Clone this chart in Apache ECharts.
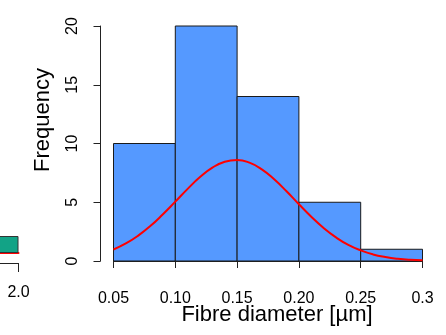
<!DOCTYPE html>
<html>
<head>
<meta charset="utf-8">
<script src="https://cdn.jsdelivr.net/npm/echarts@6/dist/echarts.min.js"></script>
<style>
html,body{margin:0;padding:0;background:#fff;}
#chart{width:446px;height:335px;}
</style>
</head>
<body>
<div id="chart"></div>
<script>
// ---- data ----
const binEdges = [0.05, 0.10, 0.15, 0.20, 0.25, 0.30];
const counts = [10, 20, 14, 5, 1];
const curveX = [0.05,0.06,0.07,0.08,0.09,0.10,0.11,0.12,0.13,0.14,0.15,0.16,0.17,0.18,0.19,0.20,0.21,0.22,0.23,0.24,0.25,0.26,0.27,0.28,0.29,0.30];
const curveY = [0.98,1.49,2.16,2.99,3.98,5.05,6.14,7.14,7.94,8.45,8.60,8.37,7.80,6.95,5.93,4.83,3.77,2.81,2.01,1.37,0.90,0.56,0.34,0.19,0.10,0.06];
const xTickLabels = ['0.05','0.10','0.15','0.20','0.25','0.3'];
const yTickLabels = ['0','5','10','15','20'];
const leftCategories = ['a','b','c'];
const leftValues = [2.0, null, null];
const leftTickLabels = ['0.0','0.5','1.0','1.5','2.0'];

const FONT = "'Liberation Sans', Arial, Helvetica, sans-serif";
const chart = echarts.init(document.getElementById('chart'), null, {renderer:'canvas'});

const histData = counts.map((c, i) => [binEdges[i], binEdges[i + 1], c]);
const curveData = curveX.map((x, i) => [x, curveY[i]]);

const option = {
  animation: false,
  backgroundColor: '#ffffff',
  textStyle: {fontFamily: FONT},
  grid: [
    {left: 113.5, top: 26, width: 309, height: 235, containLabel: false, outerBoundsMode: 'none'},
    {left: -200, top: 202, width: 218.5, height: 51, containLabel: false, outerBoundsMode: 'none'}
  ],
  xAxis: [
    {
      gridIndex: 0, type: 'value', min: 0.05, max: 0.3, interval: 0.05, offset: 10,
      axisLine: {show: true, lineStyle: {color: '#222', width: 1}},
      axisTick: {show: true, length: 7, lineStyle: {color: '#222'}},
      axisLabel: {
        show: true, fontSize: 16, color: '#000', margin: 20, fontFamily: FONT,
        showMinLabel: true, showMaxLabel: true,
        formatter: v => xTickLabels[Math.round((v - 0.05) / 0.05)]
      },
      splitLine: {show: false}
    },
    {
      gridIndex: 1, type: 'value', min: 0, max: 2, interval: 0.5, offset: 10,
      axisLine: {show: true, lineStyle: {color: '#222', width: 1}},
      axisTick: {show: true, length: 9, lineStyle: {color: '#222'}},
      axisLabel: {
        show: true, fontSize: 16, color: '#000', margin: 22, fontFamily: FONT,
        showMaxLabel: true,
        formatter: v => leftTickLabels[Math.round(v / 0.5)]
      },
      splitLine: {show: false}
    },
    {
      gridIndex: 1, type: 'value', min: 0, max: 2, position: 'bottom', offset: 0,
      axisLine: {show: true, lineStyle: {color: '#ff0000', width: 2}},
      axisTick: {show: false}, axisLabel: {show: false}, splitLine: {show: false}
    }
  ],
  yAxis: [
    {
      gridIndex: 0, type: 'value', min: 0, max: 20, interval: 5, offset: 13,
      axisLine: {show: true, lineStyle: {color: '#222', width: 1}},
      axisTick: {show: true, length: 7, lineStyle: {color: '#222'}},
      axisLabel: {
        show: true, fontSize: 16, color: '#000', rotate: 90, margin: 20, fontFamily: FONT,
        formatter: v => yTickLabels[Math.round(v / 5)]
      },
      splitLine: {show: false}
    },
    {
      gridIndex: 1, type: 'category', data: leftCategories, show: false
    }
  ],
  series: [
    {
      type: 'custom', xAxisIndex: 0, yAxisIndex: 0, data: histData,
      encode: {x: [0, 1], y: 2},
      renderItem: function (params, api) {
        const p0 = api.coord([api.value(0), api.value(2)]);
        const p1 = api.coord([api.value(1), 0]);
        return {
          type: 'rect',
          shape: {x: p0[0], y: p0[1], width: p1[0] - p0[0], height: p1[1] - p0[1]},
          style: {fill: '#5599ff', stroke: '#1a1a1a', lineWidth: 1}
        };
      },
      z: 2
    },
    {
      type: 'line', xAxisIndex: 0, yAxisIndex: 0, data: curveData, smooth: true,
      showSymbol: false, symbol: 'none',
      lineStyle: {color: '#ff0000', width: 2}, z: 3
    },
    {
      type: 'bar', xAxisIndex: 1, yAxisIndex: 1, data: leftValues,
      barWidth: '100%', barCategoryGap: '0%',
      itemStyle: {color: '#12a386', borderColor: '#333', borderWidth: 1}, z: 2
    }
  ],
  graphic: [
    {
      type: 'text', x: 43, y: 120, rotation: Math.PI / 2,
      style: {text: 'Frequency', fontSize: 22, fontFamily: FONT, fill: '#000', textAlign: 'center', textVerticalAlign: 'middle'}
    },
    {
      type: 'text', x: 277, y: 315,
      style: {text: 'Fibre diameter [µm]', fontSize: 22, fontFamily: FONT, fill: '#000', textAlign: 'center', textVerticalAlign: 'middle'}
    }
  ]
};
chart.setOption(option);
</script>
</body>
</html>
